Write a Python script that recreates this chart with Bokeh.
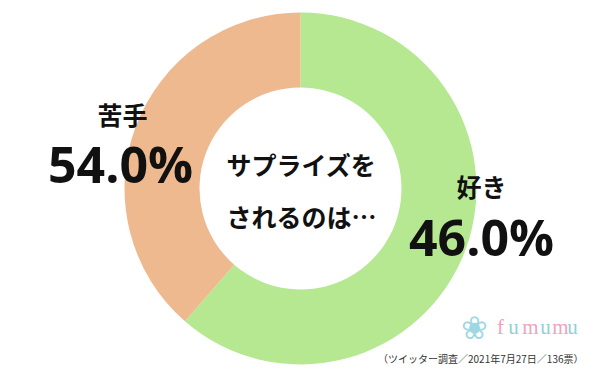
import math
from bokeh.plotting import figure
from bokeh.models import ColumnDataSource, Range1d
from bokeh.core.properties import value
from bokeh.embed import file_html
from bokeh.resources import INLINE

# data
categories = ["好き", "苦手"]
label_values = [46.0, 54.0]          # percentages printed on the chart
slice_values = [61.4, 38.6]          # arc extents as drawn in the picture
colors = ["#b5e891", "#eeb98f"]
center_title = ["サプライズを", "されるのは…"]
footnote = "（ツイッター調査／2021年7月27日／136票）"

W, H = 600, 378
p = figure(width=W, height=H, output_backend="svg", toolbar_location=None,
           x_range=Range1d(0, W), y_range=Range1d(0, H), min_border=0)
p.axis.visible = False
p.grid.visible = False
p.outline_line_color = None
p.background_fill_color = "white"
p.border_fill_color = "white"

cx, cy = 300, H - 188
total = sum(slice_values)
starts, ends = [], []
acc = 0.0
for v in slice_values:
    starts.append(math.pi / 2 - 2 * math.pi * acc / total)
    acc += v
    ends.append(math.pi / 2 - 2 * math.pi * acc / total)

src = ColumnDataSource(dict(cat=categories, val=slice_values, color=colors,
                            start=starts, end=ends))
p.annular_wedge(x=cx, y=cy, inner_radius=101, outer_radius=176,
                start_angle="start", end_angle="end", direction="clock",
                fill_color="color", line_color=None, source=src)

font = value("Noto Sans CJK JP")
# category labels and percentages
lab_pos = {"好き": (481, 185, 481, 236), "苦手": (122, 113, 120, 163)}
for c, v in zip(categories, label_values):
    lx, ly, px, py = lab_pos[c]
    p.text(x=[lx], y=[H - ly], text=[c], text_font=font, text_font_size="25px",
           text_font_style="bold", text_color="#111111",
           text_align="center", text_baseline="middle")
    p.text(x=[px], y=[H - py], text=[f"{v:.1f}%"], text_font=value("Open Sans"),
           text_font_size="50px", text_font_style="bold", text_color="#111111",
           text_align="center", text_baseline="middle")

# center text
for i, t in enumerate(center_title):
    p.text(x=[301], y=[H - (163 + 52 * i)], text=[t], text_font=font,
           text_font_size="25px", text_font_style="bold", text_color="#111111",
           text_align="center", text_baseline="middle")

# logo
p.text(x=[474], y=[H - 327], text=["❀"], text_font=value("DejaVu Sans"),
       text_font_size="32px", text_color="#9fd8e2",
       text_align="center", text_baseline="middle")
letters = list("fumumu")
lcols = ["#f0a3bd", "#8fd0d8", "#f0a3bd", "#8fd0d8", "#f0a3bd", "#8fd0d8"]
lx = [500, 513, 530, 545, 560, 572]
lsrc = ColumnDataSource(dict(x=lx, y=[H - 326] * 6, t=letters, c=lcols))
p.text(x="x", y="y", text="t", text_color="c", source=lsrc,
       text_font=value("Liberation Serif"), text_font_size="21px",
       text_align="center", text_baseline="middle")

# footnote
p.text(x=[583], y=[H - 358], text=[footnote], text_font=font,
       text_font_size="10px", text_color="#333333",
       text_align="right", text_baseline="middle")

open("out.html", "w").write(file_html(p, INLINE))
